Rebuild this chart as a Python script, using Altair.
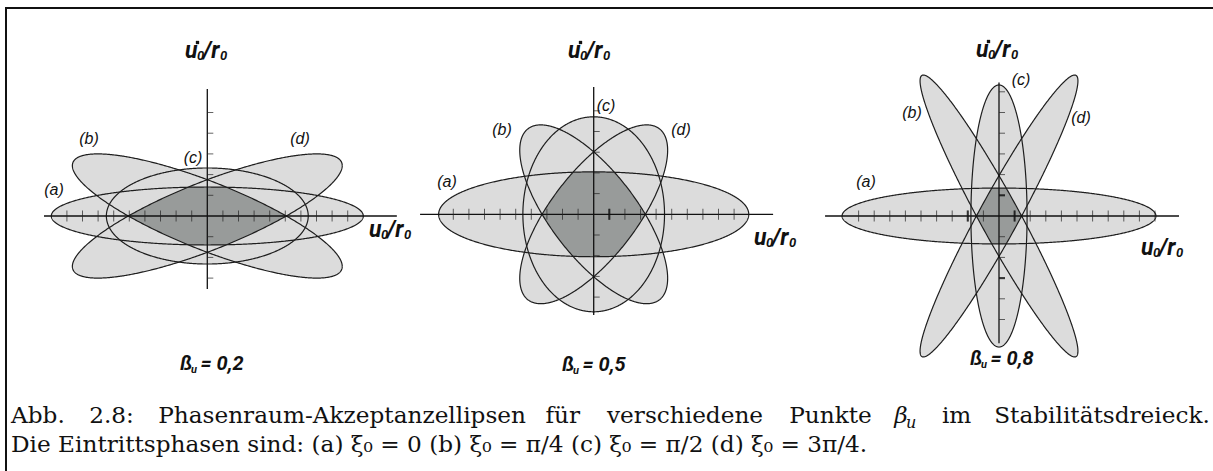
import numpy as np
import pandas as pd
import altair as alt

# ---------------------------------------------------------------------------
# Data: acceptance ellipses in tick units (u0/r0 horizontally, u0'/r0 vertically)
# ---------------------------------------------------------------------------
PANEL_BETA = ["0,2", "0,5", "0,8"]
ELLIPSES = ["a", "b", "c", "d"]
TILT = [0, -1, 0, 1]  # (b) leans to the upper left, (d) to the upper right

# half extent of each ellipse along u
U_MAX = [[10.00, 8.65, 6.47, 8.65],
         [9.94, 4.74, 4.54, 4.74],
         [10.06, 5.06, 1.80, 5.06]]
# half extent along u'
V_MAX = [[1.40, 3.00, 2.32, 3.00],
         [2.05, 4.32, 4.71, 4.32],
         [1.35, 6.81, 6.33, 6.81]]
# where the ellipse crosses the u axis
U_CROSS = [[10.00, 5.06, 6.47, 5.06],
           [9.94, 3.31, 4.54, 3.31],
           [10.06, 1.45, 1.80, 1.45]]

# axis extents and tick positions
H_AXIS = [(-10.47, 12.15), (-11.13, 11.50), (-11.15, 11.54)]
V_AXIS = [(-3.53, 6.13), (-4.87, 6.15), (-6.15, 6.45)]
H_TICKS = [[-9, -8, -7, -6, -5, -4, -3, -2, -1, 1, 2, 3, 4, 5, 6, 7, 8, 9],
           [-9, -8, -7, -6, -5, -4, -3, -2, -1, 1, 2, 3, 4, 5, 6, 7, 8, 9],
           [-9, -8, -7, -6, -5, -4, -3, -2, -1, 1, 2, 3, 4, 5, 6, 7, 8, 9, 10]]
V_TICKS = [[-3, -2, -1, 1, 2, 3, 4, 5],
           [-4, -3, -2, -1, 1, 2, 3, 4, 5],
           [-5, -4, -3, -2, -1, 1, 2, 3, 4, 5, 6]]
H_TICKS_HEAVY = [[], [1], [-2, 1]]
V_TICKS_HEAVY = [[], [], [1, -3]]

LABELS = ["(a)", "(b)", "(c)", "(d)"]

CAPTION_1 = ["Abb.", "2.8:", "Phasenraum-Akzeptanzellipsen", "für", "verschiedene",
             "Punkte", "β", "im", "Stabilitätsdreieck."]
CAPTION_2 = "Die Eintrittsphasen sind: (a) ξ₀ = 0 (b) ξ₀ = π/4 (c) ξ₀ = π/2 (d) ξ₀ = 3π/4."

# ---------------------------------------------------------------------------
# Layout (pixels)
# ---------------------------------------------------------------------------
W, H = 1213, 471
PX_U, PX_V = 15.6, 20.7
ORIGIN = [(207.3, 216.0), (593.7, 214.3), (999.0, 216.0)]
LABEL_POS = [[(54, 190), (89, 139), (193, 158), (300, 139)],
             [(447, 182), (502, 130), (606, 106), (681, 130)],
             [(866, 182), (912, 113), (1021, 80), (1081, 118)]]
TOP_TITLE = [(185, 58), (568, 58), (976, 57)]
RIGHT_TITLE = [(369, 237), (754, 245), (1141, 255)]
BETA_POS = [(180, 370), (562, 371), (970, 365)]

LIGHT = "#dcdcdc"
DARK = "#989b9a"
INK = "#1e1e1e"
SANS_B = "Roboto, 'Liberation Sans', sans-serif"
SANS = "'Liberation Sans', Arial, sans-serif"
SERIF = "'DejaVu Serif', serif"
CAP = 23.2
# approximate advance of each caption-1 word at 25 px (used to justify the line)
CAP1_WIDTH25 = [58, 48, 391, 40, 170, 87, 25, 30, 225]
CAP_LEFT, CAP_RIGHT = 11, 1203


def sx(p):
    ox = ORIGIN[p][0]
    return alt.Scale(domain=[-10, 10], range=[ox - 10 * PX_U, ox + 10 * PX_U], zero=False, nice=False)


def sy(p):
    oy = ORIGIN[p][1]
    return alt.Scale(domain=[-10, 10], range=[oy + 10 * PX_V, oy - 10 * PX_V], zero=False, nice=False)


def chord(u, U, V, u0, s):
    """Lower/upper u' of the ellipse at abscissa u."""
    p = u / U
    sd = min(u0 / U, 1.0)
    cd = np.sqrt(1.0 - sd * sd)
    root = sd * np.sqrt(np.clip(1.0 - p * p, 0.0, None))
    q1, q2 = p * cd - root, p * cd + root
    if s >= 0:
        return V * q1, V * q2
    return -V * q2, -V * q1


def outline(U, V, u0, s):
    t = np.linspace(0, 2 * np.pi, 721)
    sd = min(u0 / U, 1.0)
    d = np.arcsin(sd)
    sign = s if s != 0 else 1
    return t, U * np.cos(t), sign * V * np.cos(t - d)


def txt(s, x, y, size, font, style="normal", weight="normal", align="left", baseline="alphabetic"):
    return alt.Chart(pd.DataFrame({"s": [s]})).mark_text(
        align=align, baseline=baseline, font=font, fontSize=size,
        fontStyle=style, fontWeight=weight, color="#111"
    ).encode(x=alt.value(x), y=alt.value(y), text="s:N")


def fraction_title(x0, b0, dot):
    out = [
        txt("u", x0, b0, 23, SANS_B, "italic", "bold"),
        txt("0", x0 + 12, b0 + 2, 13, SANS_B, "italic", "bold"),
        txt("/r", x0 + 18, b0, 23, SANS_B, "italic", "bold"),
        txt("0", x0 + 35, b0 + 2, 13, SANS_B, "italic", "bold"),
    ]
    if dot:
        out.append(alt.Chart(pd.DataFrame({"z": [0]})).mark_square(size=11, color="#111", opacity=1).encode(
            x=alt.value(x0 + 12.5), y=alt.value(b0 - 15.5)))
    return out


layers = []

for p in range(3):
    X = lambda f: alt.X(f, scale=sx(p), axis=None)
    Y = lambda f: alt.Y(f, scale=sy(p), axis=None)

    fill_rows, line_rows = [], []
    grid_lo, grid_hi = [], []
    umin = min(U_MAX[p])
    ug = np.linspace(-umin, umin, 4001)
    for i, name in enumerate(ELLIPSES):
        U, V, u0, s = U_MAX[p][i], V_MAX[p][i], U_CROSS[p][i], TILT[i]
        uu = -U * np.cos(np.linspace(0, np.pi, 401))
        lo, hi = chord(uu, U, V, u0, s)
        fill_rows.append(pd.DataFrame({"ell": name, "u": uu, "lo": lo, "hi": hi}))
        t, ou, ov = outline(U, V, u0, s)
        line_rows.append(pd.DataFrame({"ell": name, "t": t, "u": ou, "v": ov}))
        glo, ghi = chord(ug, U, V, u0, s)
        grid_lo.append(glo)
        grid_hi.append(ghi)
    ilo = np.max(grid_lo, axis=0)
    ihi = np.min(grid_hi, axis=0)
    keep = ilo <= ihi
    inter = pd.DataFrame({"u": ug[keep], "lo": ilo[keep], "hi": ihi[keep]})

    fills = pd.concat(fill_rows, ignore_index=True)
    lines = pd.concat(line_rows, ignore_index=True)

    layers.append(alt.Chart(fills).mark_area(color=LIGHT, opacity=1).encode(
        x=X("u:Q"), y=Y("lo:Q"), y2="hi:Q", detail="ell:N"))
    layers.append(alt.Chart(inter).mark_area(color=DARK, opacity=1).encode(
        x=X("u:Q"), y=Y("lo:Q"), y2="hi:Q"))
    layers.append(alt.Chart(lines).mark_line(color=INK, strokeWidth=1.2).encode(
        x=X("u:Q"), y=Y("v:Q"), detail="ell:N", order="t:Q"))

    # axes
    hax = pd.DataFrame({"a": [H_AXIS[p][0]], "b": [H_AXIS[p][1]], "z": [0.0]})
    vax = pd.DataFrame({"a": [V_AXIS[p][0]], "b": [V_AXIS[p][1]], "z": [0.0]})
    layers.append(alt.Chart(hax).mark_rule(color="#111", strokeWidth=1.3).encode(
        x=X("a:Q"), x2="b:Q", y=Y("z:Q")))
    layers.append(alt.Chart(vax).mark_rule(color="#111", strokeWidth=1.3).encode(
        y=Y("a:Q"), y2="b:Q", x=X("z:Q")))

    ht = pd.DataFrame({"k": H_TICKS[p], "z": 0.0})
    vt = pd.DataFrame({"k": V_TICKS[p], "z": 0.0})
    layers.append(alt.Chart(ht).mark_tick(orient="vertical", size=11, thickness=1, color="#222").encode(
        x=X("k:Q"), y=Y("z:Q")))
    layers.append(alt.Chart(vt).mark_tick(orient="horizontal", size=6, thickness=1, color="#222", xOffset=3).encode(
        y=Y("k:Q"), x=X("z:Q")))
    if H_TICKS_HEAVY[p]:
        hh = pd.DataFrame({"k": H_TICKS_HEAVY[p], "z": 0.0})
        layers.append(alt.Chart(hh).mark_tick(orient="vertical", size=11, thickness=2.2, color="#111").encode(
            x=X("k:Q"), y=Y("z:Q")))
    if V_TICKS_HEAVY[p]:
        vh = pd.DataFrame({"k": V_TICKS_HEAVY[p], "z": 0.0})
        layers.append(alt.Chart(vh).mark_tick(orient="horizontal", size=6, thickness=2.2, color="#111", xOffset=3).encode(
            y=Y("k:Q"), x=X("z:Q")))

    # ellipse labels
    for lab, (lx, ly) in zip(LABELS, LABEL_POS[p]):
        layers.append(txt(lab, lx, ly, 16, SANS, style="italic", align="center", baseline="middle"))

    # axis titles
    layers += fraction_title(*TOP_TITLE[p], dot=True)
    layers += fraction_title(*RIGHT_TITLE[p], dot=False)

    x0, b0 = BETA_POS[p]
    layers += [
        txt("ß", x0, b0, 20, SANS_B, "italic", "bold"),
        txt("u", x0 + 11, b0 + 3, 11, SANS_B, "italic", "bold"),
        txt("= " + PANEL_BETA[p], x0 + 20.5, b0, 20, SANS_B, "italic", "bold"),
    ]

# frame
frame = pd.DataFrame({"z": [0]})
layers.append(alt.Chart(frame).mark_rule(color="#111", strokeWidth=2).encode(
    x=alt.value(6), x2=alt.value(W), y=alt.value(8)))
layers.append(alt.Chart(frame).mark_rule(color="#111", strokeWidth=2).encode(
    x=alt.value(6), y=alt.value(7), y2=alt.value(H)))

# caption: first line justified across the full width, second line set naturally
f = CAP / 25.0
widths = [w * f for w in CAP1_WIDTH25]
gap = (CAP_RIGHT - CAP_LEFT - sum(widths)) / (len(widths) - 1)
xpos = CAP_LEFT
for word, w in zip(CAPTION_1, widths):
    if word == "β":
        layers.append(txt(word, xpos, 423, CAP, SERIF, "italic"))
        layers.append(txt("u", xpos + 12.5 * f, 428, 16, SERIF, "italic"))
    else:
        layers.append(txt(word, xpos, 423, CAP, SERIF))
    xpos += w + gap
layers.append(txt(CAPTION_2, CAP_LEFT, 452, CAP, SERIF))

chart = alt.layer(*layers).resolve_scale(x="independent", y="independent").properties(
    width=W, height=H, autosize=alt.AutoSizeParams(type="none"), padding=0,
    background="white"
).configure_view(strokeWidth=0)

chart.save("out.html", embed_options={"renderer": "svg", "actions": False})
